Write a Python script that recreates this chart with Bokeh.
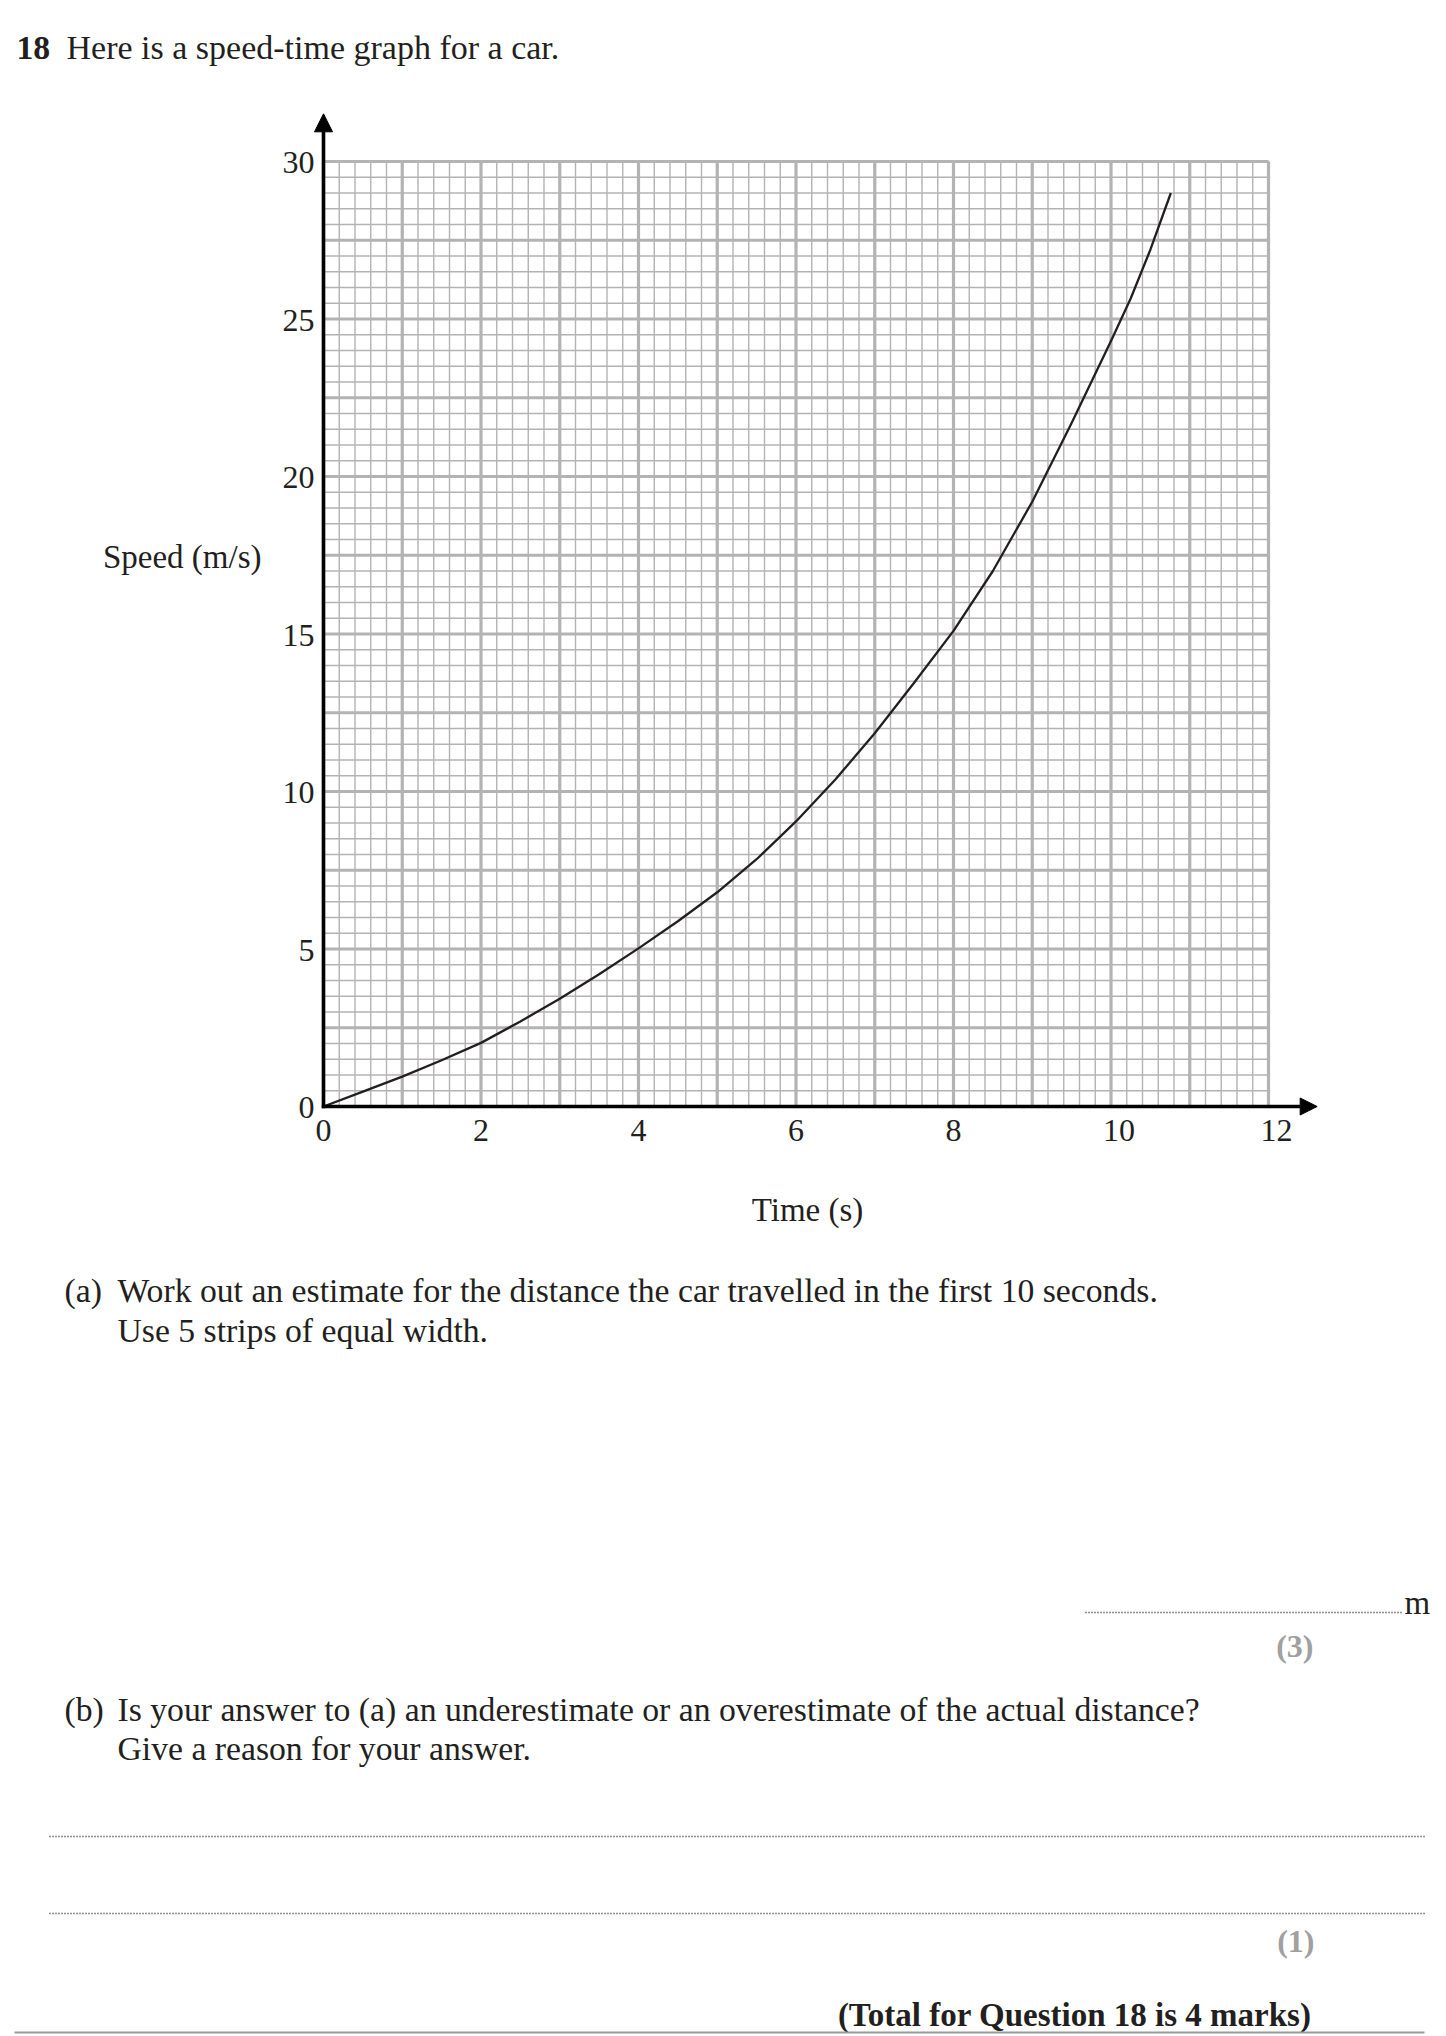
import numpy as np
from bokeh.plotting import figure
from bokeh.models import Range1d, Arrow, NormalHead
from bokeh.core.properties import value
from bokeh.embed import file_html
from bokeh.resources import INLINE

# ---------------- data ----------------
time_s = [0, 0.5, 1, 1.5, 2, 2.5, 3, 3.5, 4, 4.5, 5, 5.5, 6, 6.5, 7, 7.5,
          8, 8.5, 9, 9.5, 10, 10.25, 10.5, 10.76]
speed_ms = [0, 0.47, 0.95, 1.47, 2.02, 2.7, 3.42, 4.2, 5.02, 5.88, 6.8, 7.85,
            9.05, 10.38, 11.85, 13.45, 15.1, 17.0, 19.2, 21.7, 24.3, 25.65, 27.2, 29.0]

x_ticks = [0, 2, 4, 6, 8, 10, 12]
x_tick_labels = ["0", "2", "4", "6", "8", "10", "12"]
y_ticks = [0, 5, 10, 15, 20, 25, 30]
y_tick_labels = ["0", "5", "10", "15", "20", "25", "30"]

x_max, y_max = 12, 30
x_minor_step, x_major_step = 0.2, 1.0
y_minor_step, y_major_step = 0.5, 2.5

x_title = "Time (s)"
y_title = "Speed (m/s)"

# ---------------- page geometry ----------------
W, H = 1446, 2036
X0, XS = 323.0, 78.75      # px of x=0, px per second
Y0, YS = 1106.0, 31.5      # px of y=0, px per m/s
FIX = -10                  # baseline correction (px)

SERIF = value("Liberation Serif")
INK = "#231f20"
GRID = "#b3b3b3"
MARK = "#a0a0a0"

p = figure(width=W, height=H,
           x_range=Range1d(-X0 / XS, (W - X0) / XS),
           y_range=Range1d((Y0 - H) / YS, Y0 / YS),
           output_backend="svg", toolbar_location=None,
           x_axis_location=None, y_axis_location=None, min_border=0)
p.outline_line_color = None
p.background_fill_color = "white"
p.border_fill_color = "white"
p.grid.grid_line_color = None
p.extra_x_ranges = {"px": Range1d(0, W)}
p.extra_y_ranges = {"py": Range1d(H, 0)}

# ---------------- graph paper ----------------
x_minor = np.round(np.arange(0, x_max + 1e-9, x_minor_step), 3)
y_minor = np.round(np.arange(0, y_max + 1e-9, y_minor_step), 3)
x_major = np.round(np.arange(0, x_max + 1e-9, x_major_step), 3)
y_major = np.round(np.arange(0, y_max + 1e-9, y_major_step), 3)

p.segment(x0=x_minor, y0=0, x1=x_minor, y1=y_max, line_color=GRID, line_width=1.4)
p.segment(x0=0, y0=y_minor, x1=x_max, y1=y_minor, line_color=GRID, line_width=1.4)
p.segment(x0=x_major, y0=0, x1=x_major, y1=y_max, line_color=GRID, line_width=3.2)
p.segment(x0=0, y0=y_major, x1=x_max, y1=y_major, line_color=GRID, line_width=3.2)

# ---------------- curve ----------------
p.line(time_s, speed_ms, line_color=INK, line_width=2.3, line_join="round")

# ---------------- axes with arrows ----------------
p.add_layout(Arrow(x_start=-0.022, y_start=0, x_end=12.618, y_end=0,
                   line_width=3.6, line_color="black",
                   end=NormalHead(size=17, fill_color="black", line_color="black", line_width=1)))
p.add_layout(Arrow(x_start=0, y_start=-0.055, x_end=0, y_end=31.514,
                   line_width=3.6, line_color="black",
                   end=NormalHead(size=18, fill_color="black", line_color="black", line_width=1)))

# tick labels
p.text(x=x_ticks, y=[0] * len(x_ticks), text=x_tick_labels,
       x_offset=-8, y_offset=33.5 + FIX, text_align="left", text_baseline="alphabetic",
       text_font=SERIF, text_font_size=value("32px"), text_color=INK)
p.text(x=[0] * len(y_ticks), y=y_ticks, text=y_tick_labels,
       x_offset=-9, y_offset=11 + FIX, text_align="right", text_baseline="alphabetic",
       text_font=SERIF, text_font_size=value("32px"), text_color=INK)


def txt(x, y, s, size="33.7px", style="normal", align="left", color=INK):
    p.text(x=[x], y=[y + FIX], text=[s], text_align=align, text_baseline="alphabetic",
           text_font=SERIF, text_font_size=value(size), text_font_style=style,
           text_color=color, x_range_name="px", y_range_name="py")


# axis titles
txt(261, 566, y_title, size="33px", align="right")
txt(807, 1219, x_title, size="33px", align="center")

# ---------------- question text ----------------
txt(16, 57, "18", style="bold")
txt(66, 57, "Here is a speed-time graph for a car.", size="34px")

txt(64, 1300, "(a)")
txt(117, 1300, "Work out an estimate for the distance the car travelled in the first 10 seconds.")
txt(117, 1340, "Use 5 strips of equal width.")

p.segment(x0=[1085], y0=[1612], x1=[1403], y1=[1612], line_color=INK, line_width=1.3,
          line_dash="1 2", x_range_name="px", y_range_name="py")
txt(1404, 1612, "m", size="33px")
txt(1313, 1655, "(3)", size="32px", style="bold", align="right", color=MARK)

txt(64, 1719, "(b)")
txt(117, 1719, "Is your answer to (a) an underestimate or an overestimate of the actual distance?")
txt(117, 1758, "Give a reason for your answer.")

p.segment(x0=[49, 49], y0=[1836, 1913], x1=[1424, 1424], y1=[1836, 1913], line_color=INK,
          line_width=1.3, line_dash="1 2", x_range_name="px", y_range_name="py")
txt(1314, 1950, "(1)", size="32px", style="bold", align="right", color=MARK)

txt(1311, 2024, "(Total for Question 18 is 4 marks)", size="33px", style="bold", align="right")
p.segment(x0=[14], y0=[2032], x1=[1424], y1=[2032], line_color="#9a9a9a", line_width=2,
          x_range_name="px", y_range_name="py")

open("out.html", "w").write(file_html(p, INLINE))
